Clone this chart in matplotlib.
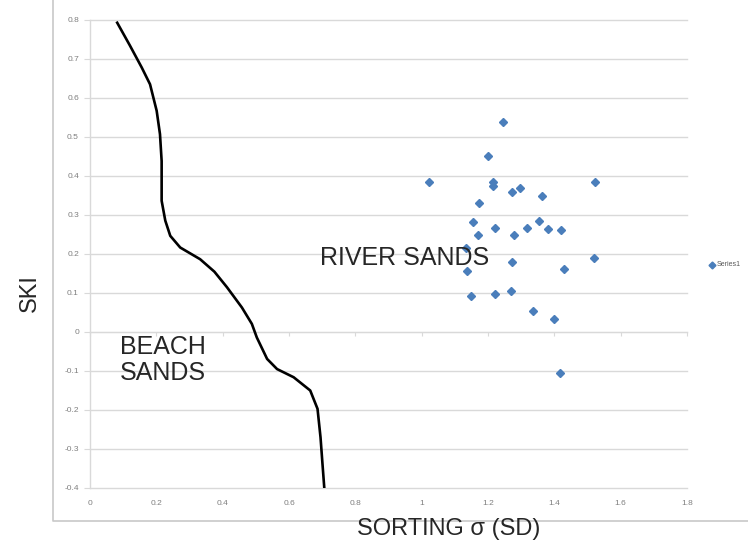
import matplotlib
matplotlib.use('Agg')
import matplotlib.pyplot as plt
from matplotlib.lines import Line2D
import numpy as np

plt.rcParams['font.family'] = ['Liberation Sans', 'DejaVu Sans']
plt.rcParams['axes.unicode_minus'] = False

# river sand samples (sorting, skewness)
river_sorting = [1.245, 1.201, 1.023, 1.214, 1.214, 1.272, 1.297, 1.362, 1.523, 1.173,
                 1.156, 1.354, 1.222, 1.317, 1.381, 1.419, 1.170, 1.277, 1.134, 1.272,
                 1.520, 1.137, 1.429, 1.149, 1.222, 1.268, 1.336, 1.399, 1.417]
river_ski = [0.539, 0.450, 0.384, 0.384, 0.375, 0.359, 0.370, 0.347, 0.385, 0.331,
             0.281, 0.285, 0.267, 0.266, 0.264, 0.262, 0.247, 0.247, 0.214, 0.178,
             0.189, 0.156, 0.162, 0.092, 0.097, 0.105, 0.052, 0.033, -0.106]

# dividing line between beach and river sands
line_sorting = [0.082, 0.120, 0.156, 0.181, 0.201, 0.211, 0.216, 0.216, 0.216, 0.227, 0.242,
                0.272, 0.332, 0.375, 0.413, 0.458, 0.488, 0.503, 0.534, 0.564, 0.614,
                0.664, 0.686, 0.695, 0.701, 0.707]
line_ski = [0.793, 0.735, 0.678, 0.635, 0.567, 0.507, 0.438, 0.380, 0.336, 0.285, 0.246,
            0.216, 0.186, 0.154, 0.114, 0.062, 0.020, -0.015, -0.070, -0.096, -0.117,
            -0.151, -0.198, -0.271, -0.340, -0.408]

x_ticks = [0, 0.2, 0.4, 0.6, 0.8, 1, 1.2, 1.4, 1.6, 1.8]
x_labels = ['0', '0.2', '0.4', '0.6', '0.8', '1', '1.2', '1.4', '1.6', '1.8']
y_ticks = [-0.4, -0.3, -0.2, -0.1, 0, 0.1, 0.2, 0.3, 0.4, 0.5, 0.6, 0.7, 0.8]
y_labels = ['-0.4', '-0.3', '-0.2', '-0.1', '0', '0.1', '0.2', '0.3', '0.4', '0.5', '0.6', '0.7', '0.8']

grid_col = '#d9d9d9'
tick_col = '#7f7f7f'
blue = '#4a7ebb'

fig = plt.figure(figsize=(7.48, 5.48), dpi=100)
ax = fig.add_axes([90/748, 1 - 487.5/548, 597/748, 467.5/548])

ax.set_xlim(0, 1.8)
ax.set_ylim(-0.4, 0.8)
ax.set_xticks(x_ticks)
ax.set_xticklabels(x_labels)
ax.set_yticks(y_ticks)
ax.set_yticklabels(y_labels)
ax.tick_params(axis='x', length=0, pad=9, labelsize=6, labelcolor=tick_col)
ax.tick_params(axis='y', length=4, width=0.8, color=grid_col, pad=4, labelsize=6, labelcolor=tick_col)
ax.yaxis.grid(True, color=grid_col, linewidth=1.0)
for gl in ax.get_ygridlines():
    gl.set_clip_on(False)
ax.set_axisbelow(True)
for s in ['top', 'right', 'bottom']:
    ax.spines[s].set_visible(False)
ax.spines['left'].set_color(grid_col)
ax.spines['left'].set_linewidth(1.0)

# axis crossing at 0 with small tick marks
sec = ax.secondary_xaxis(0, transform=ax.transData)
sec.set_xticks(x_ticks)
sec.set_xticklabels([])
sec.tick_params(length=3, width=0.8, color=grid_col, direction='out')
sec.spines['bottom'].set_color(grid_col)

ax.plot(line_sorting, line_ski, color='black', linewidth=1.9, solid_joinstyle='round', zorder=3)
ax.plot(river_sorting, river_ski, linestyle='none', marker='D', markersize=4,
        color=blue, markeredgecolor=blue, zorder=4)

ax.text(0.09, -0.008, 'BEACH\nSANDS', fontsize=18, color='#262626', va='top', ha='left',
        linespacing=1.12, zorder=5)
ax.text(0.693, 0.188, 'RIVER SANDS', fontsize=18, color='#262626', va='center', ha='left', zorder=5)

fig.text(30/748, 1 - 293/548, 'SKI', rotation=90, fontsize=17, color='#262626',
         ha='center', va='center')
fig.text(449/748, 1 - 529/548, 'SORTING σ (SD)', fontsize=17, color='#262626',
         ha='center', va='center')

# legend
fig.add_artist(Line2D([712/748], [1 - 265/548], marker='D', markersize=3.5, color=blue,
                      linestyle='none', transform=fig.transFigure))
fig.text(717/748, 1 - 265/548, 'Series1', fontsize=5, color='#595959', ha='left', va='center')

# chart area frame
fig.add_artist(Line2D([53/748, 53/748, 1.0], [1.0, 1 - 521/548, 1 - 521/548],
                      color='#c8c8c8', linewidth=1.2, transform=fig.transFigure))

fig.savefig('out.png', dpi=100)
